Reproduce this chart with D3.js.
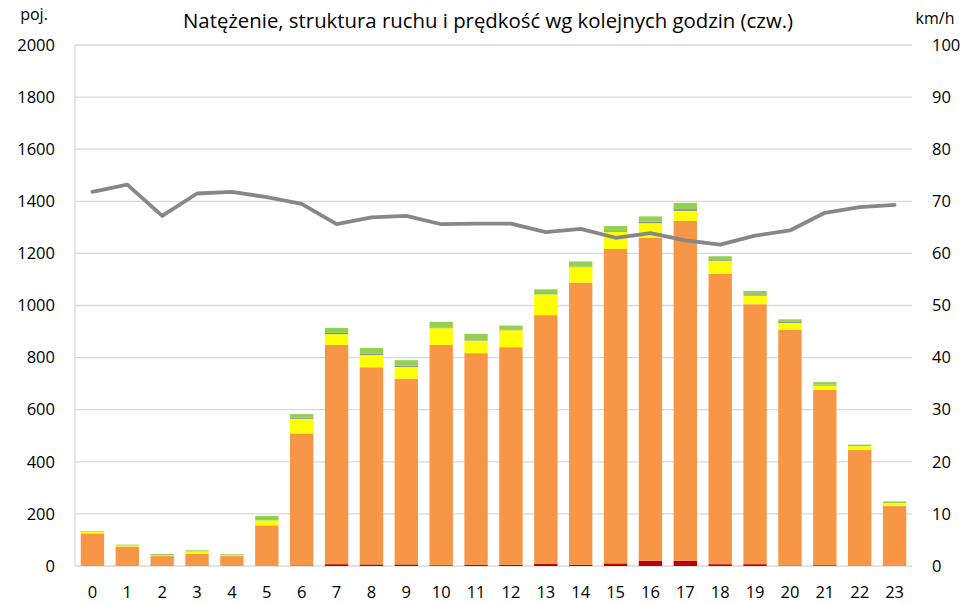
<!DOCTYPE html>
<html>
<head>
<meta charset="utf-8">
<script src="https://cdn.jsdelivr.net/npm/d3@7"></script>
<style>
  body { margin: 0; background: #fff; }
  text { font-family: "Open Sans", "Noto Sans", sans-serif; fill: #000; }
</style>
</head>
<body>
<svg id="chart" width="977" height="605"></svg>
<script>
// godziny
const hours = d3.range(0, 24).map(String);

// natężenie wg kategorii pojazdów (poj.)
const red    = [0, 0, 0, 0, 0, 1, 2, 7, 6, 6, 3, 5, 5, 8, 5, 10, 20, 20, 7, 7, 2, 3, 0, 0];
const orange = [125, 75, 38, 46, 38, 155, 507, 842, 757, 713, 846, 812, 835, 955, 1083, 1207, 1240, 1305, 1114, 998, 904, 673, 445, 230];
const yellow = [7, 4, 3, 10, 3, 19, 56, 41, 47, 45, 64, 48, 65, 80, 59, 65, 56, 38, 50, 33, 27, 17, 15, 12];
const grey   = [0, 0, 0, 0, 0, 0, 5, 5, 5, 5, 1, 2, 3, 4, 2, 3, 6, 7, 3, 5, 6, 3, 0, 0];
const green  = [2, 3, 5, 4, 4, 17, 13, 19, 22, 21, 23, 24, 15, 15, 20, 20, 20, 24, 15, 13, 8, 10, 6, 6];

// prędkość (km/h)
const speed = [71.8, 73.2, 67.2, 71.5, 71.8, 70.8, 69.5, 65.6, 66.9, 67.2, 65.6, 65.7, 65.7, 64.1, 64.7, 63.0, 63.9, 62.5, 61.7, 63.4, 64.4, 67.8, 68.9, 69.3];

const leftTicks = d3.range(0, 2001, 200);
const rightTicks = d3.range(0, 101, 10);

const keys = ["red", "orange", "yellow", "grey", "green"];
const colors = { red: "#C00000", orange: "#F79646", yellow: "#FFFF00", grey: "#8C8C8C", green: "#92D050" };
const series = { red, orange, yellow, grey, green };

const table = hours.map((h, i) => {
  const row = { hour: h };
  keys.forEach(k => row[k] = series[k][i]);
  return row;
});

const svg = d3.select("#chart");
const margin = { top: 45, right: 65, bottom: 39, left: 75 };
const width = 977 - margin.left - margin.right;
const height = 605 - margin.top - margin.bottom;

const g = svg.append("g").attr("transform", `translate(${margin.left},${margin.top})`);

const x = d3.scaleBand().domain(hours).range([0, width]).paddingInner(0.33).paddingOuter(0.165);
const y = d3.scaleLinear().domain([0, 2000]).range([height, 0]);
const y2 = d3.scaleLinear().domain([0, 100]).range([height, 0]);

// siatka
g.append("g")
  .selectAll("line")
  .data(leftTicks)
  .enter()
  .append("line")
  .attr("x1", 0)
  .attr("x2", width)
  .attr("y1", d => y(d))
  .attr("y2", d => y(d))
  .attr("stroke", "#d9d9d9")
  .attr("stroke-width", 1.3);

g.append("line")
  .attr("x1", 0).attr("x2", 0)
  .attr("y1", 0).attr("y2", height)
  .attr("stroke", "#d9d9d9")
  .attr("stroke-width", 1.3);

// słupki
const stacked = d3.stack().keys(keys)(table);

g.append("g")
  .selectAll("g")
  .data(stacked)
  .enter()
  .append("g")
  .attr("fill", d => colors[d.key])
  .selectAll("rect")
  .data(d => d)
  .enter()
  .append("rect")
  .attr("x", d => x(d.data.hour))
  .attr("width", x.bandwidth())
  .attr("y", d => y(d[1]))
  .attr("height", d => y(d[0]) - y(d[1]));

// linia prędkości
const line = d3.line()
  .x((d, i) => x(hours[i]) + x.bandwidth() / 2)
  .y(d => y2(d));

g.append("path")
  .datum(speed)
  .attr("fill", "none")
  .attr("stroke", "#878787")
  .attr("stroke-width", 3.8)
  .attr("stroke-linejoin", "round")
  .attr("stroke-linecap", "round")
  .attr("d", line);

// osie
const fs = "16.5px";
const axL = g.append("g").call(d3.axisLeft(y).tickValues(leftTicks).tickFormat(d3.format("d")).tickSize(0).tickPadding(20));
axL.select(".domain").remove();
axL.selectAll("text").style("font-size", fs).attr("fill", "#000");

const axR = g.append("g").attr("transform", `translate(${width},0)`)
  .call(d3.axisRight(y2).tickValues(rightTicks).tickSize(0).tickPadding(20));
axR.select(".domain").remove();
axR.selectAll("text").style("font-size", fs).attr("fill", "#000");

const axB = g.append("g").attr("transform", `translate(0,${height})`)
  .call(d3.axisBottom(x).tickSize(0).tickPadding(20));
axB.select(".domain").remove();
axB.selectAll("text").style("font-size", fs).attr("fill", "#000");

// tytuły
svg.append("text")
  .attr("x", 488)
  .attr("y", 28)
  .attr("text-anchor", "middle")
  .attr("textLength", 610)
  .attr("lengthAdjust", "spacingAndGlyphs")
  .style("font-size", "19.5px")
  .text("Natężenie, struktura ruchu i prędkość wg kolejnych godzin (czw.)");

svg.append("text")
  .attr("x", 34)
  .attr("y", 20)
  .attr("text-anchor", "middle")
  .style("font-size", "16px")
  .text("poj.");

svg.append("text")
  .attr("x", 935)
  .attr("y", 24)
  .attr("text-anchor", "middle")
  .style("font-size", "16px")
  .text("km/h");
</script>
</body>
</html>
